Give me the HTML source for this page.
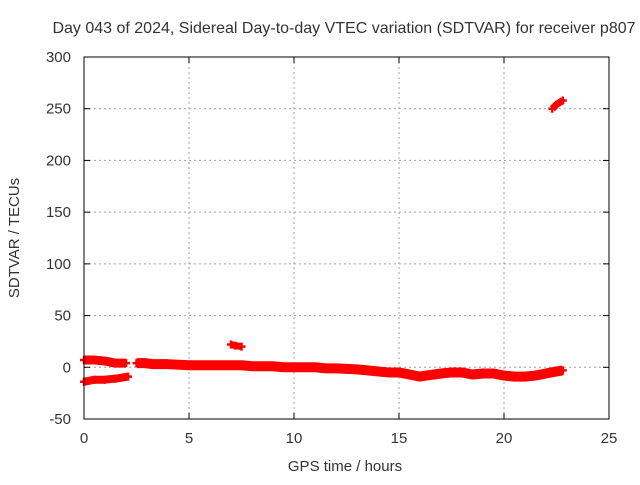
<!DOCTYPE html>
<html><head><meta charset="utf-8"><style>
body{margin:0;background:#fff}
text{font-family:"Liberation Sans",sans-serif;font-size:15px;fill:#333}
</style></head><body>
<svg id="c" width="640" height="480">
<rect x="0" y="0" width="640" height="480" fill="#fff"/>
<text x="344" y="33" text-anchor="middle" style="font-size:16px">Day 043 of 2024, Sidereal Day-to-day VTEC variation (SDTVAR) for receiver p807</text>
<g id="grid"></g><g id="series"></g><g id="axes"></g>
<text x="345" y="471" text-anchor="middle">GPS time / hours</text>
<text transform="translate(19,238) rotate(-90)" text-anchor="middle">SDTVAR / TECUs</text>
</svg>
<script>
const xTicks=[0,5,10,15,20,25];
const yTicks=[-50,0,50,100,150,200,250,300];
const segMainA_t=[0,0.5,1.0,1.5,2.0];
const segMainA_v=[7,7,6,4,4];
const segMainB_t=[2.5,2.9,3.3,4,5,6,7,7.5,8,9,9.5,10,11,11.5,12,13,13.5,14,14.5,15,15.5,16,16.3,17,17.5,18,18.5,19,19.5,20,20.5,21,21.5,22,22.5,22.8];
const segMainB_v=[4,4,3,3,2,2,2,2,1,1,0,0,0,-1,-1,-2,-3,-4,-5,-5,-7,-9,-8,-6,-5,-5,-7,-6,-6,-8,-9,-9,-8,-6,-4,-3];
const segLow_t=[0,0.5,1,1.5,2.1];
const segLow_v=[-14,-12,-12,-11,-9];
const segBlip_t=[7.0,7.2,7.5];
const segBlip_v=[22,21,20];
const segHigh_t=[22.3,22.5,22.8];
const segHigh_v=[250,254,258];
const X0=84,X1=609,Y0=419,Y1=57;
const xs=v=>X0+(v-0)/25*(X1-X0);
const ys=v=>Y0-(v+50)/350*(Y0-Y1);
const NS="http://www.w3.org/2000/svg";
function mk(tag,attrs,parent){const e=document.createElementNS(NS,tag);for(const k in attrs)e.setAttribute(k,attrs[k]);parent.appendChild(e);return e;}
const grid=document.getElementById('grid'),axes=document.getElementById('axes'),ser=document.getElementById('series');
xTicks.forEach(t=>{const x=xs(t);
 if(t>0&&t<25){const l=mk('line',{x1:x,x2:x,y1:Y1,y2:Y0,stroke:'#a0a0a0','stroke-dasharray':'2,3'},grid);
 
 }
 const tx=mk('text',{x:x,y:Y0+24,'text-anchor':'middle'},axes);tx.textContent=t;
 
 
 mk('line',{x1:x,x2:x,y1:Y0,y2:Y0-6,stroke:'#000'},axes);mk('line',{x1:x,x2:x,y1:Y1,y2:Y1+6,stroke:'#000'},axes);});
yTicks.forEach(t=>{const y=ys(t);
 if(t>-50&&t<300){const l=mk('line',{x1:X0,x2:X1,y1:y,y2:y,stroke:'#a0a0a0','stroke-dasharray':'2,3'},grid);
 
 }
 const tx=mk('text',{x:X0-13,y:y+5,'text-anchor':'end'},axes);tx.textContent=t;
 
 
 mk('line',{x1:X0,x2:X0+6,y1:y,y2:y,stroke:'#000'},axes);mk('line',{x1:X1,x2:X1-6,y1:y,y2:y,stroke:'#000'},axes);});
const fr=mk('rect',{x:X0,y:Y1,width:X1-X0,height:Y0-Y1,fill:'none',stroke:'#000'},axes);


function seg(ts,vs,name,w){
 const pts=ts.map((t,i)=>xs(t)+','+ys(vs[i])).join(' ');
 const p=mk('polyline',{points:pts,fill:'none',stroke:'#f00','stroke-width':w,'stroke-linejoin':'round','stroke-linecap':'butt'},ser);
 
 
 ts.forEach((t,i)=>{const x=xs(t),y=ys(vs[i]);
  const m=mk('path',{d:`M${x-4},${y}h8M${x},${y-4}v8`,stroke:'#f00','stroke-width':2.5},ser);
  
  });
}
seg(segMainA_t,segMainA_v,'sdtvar-main-start',9);
seg(segMainB_t,segMainB_v,'sdtvar-main',10);
seg(segLow_t,segLow_v,'sdtvar-low-band',8);
seg(segBlip_t,segBlip_v,'sdtvar-blip',7);
seg(segHigh_t,segHigh_v,'sdtvar-high',7);
</script>
</body></html>
